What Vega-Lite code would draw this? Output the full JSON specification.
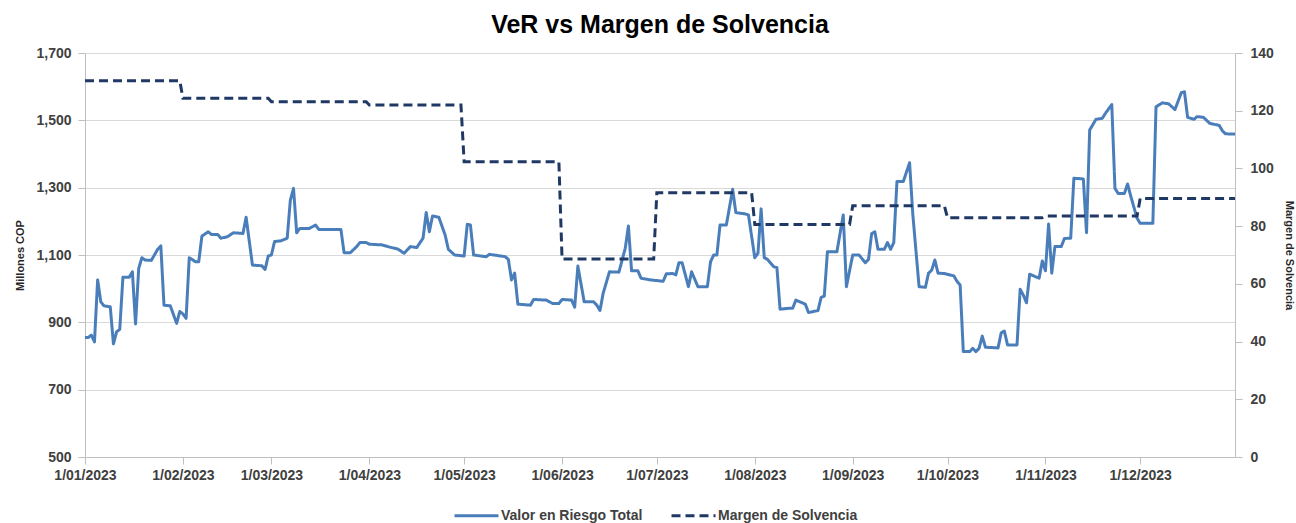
{
  "$schema": "https://vega.github.io/schema/vega-lite/v6.json",
  "width": 1150,
  "height": 404,
  "autosize": {"type": "none"},
  "padding": {"left": 85, "top": 53, "right": 61, "bottom": 66},
  "background": "white",
  "title": {"text": "VeR vs Margen de Solvencia", "fontSize": 25, "font": "Liberation Sans, Arial, sans-serif", "fontWeight": "bold", "color": "#000000", "anchor": "middle", "offset": 8},
  "config": {
    "view": {"stroke": null},
    "axis": {"labelFont": "Liberation Sans, Arial, sans-serif", "labelFontSize": 14, "labelFontWeight": "bold", "labelColor": "#404040", "titleFont": "Liberation Sans, Arial, sans-serif", "titleFontWeight": "bold", "titleFontSize": 11, "titleColor": "#262626", "domainColor": "#bfbfbf", "tickColor": "#bfbfbf", "gridColor": "#d9d9d9", "labelFlush": false, "tickSize": 7}
  },
  "data": {"values": [
    {"fecha": "2023-01-01", "serie": "Valor en Riesgo Total", "valor": 855},
    {"fecha": "2023-01-02", "serie": "Valor en Riesgo Total", "valor": 855},
    {"fecha": "2023-01-03", "serie": "Valor en Riesgo Total", "valor": 862},
    {"fecha": "2023-01-04", "serie": "Valor en Riesgo Total", "valor": 842},
    {"fecha": "2023-01-05", "serie": "Valor en Riesgo Total", "valor": 1026},
    {"fecha": "2023-01-06", "serie": "Valor en Riesgo Total", "valor": 961},
    {"fecha": "2023-01-07", "serie": "Valor en Riesgo Total", "valor": 949},
    {"fecha": "2023-01-09", "serie": "Valor en Riesgo Total", "valor": 946},
    {"fecha": "2023-01-10", "serie": "Valor en Riesgo Total", "valor": 836},
    {"fecha": "2023-01-11", "serie": "Valor en Riesgo Total", "valor": 872},
    {"fecha": "2023-01-12", "serie": "Valor en Riesgo Total", "valor": 879},
    {"fecha": "2023-01-13", "serie": "Valor en Riesgo Total", "valor": 1034},
    {"fecha": "2023-01-15", "serie": "Valor en Riesgo Total", "valor": 1034},
    {"fecha": "2023-01-16", "serie": "Valor en Riesgo Total", "valor": 1050},
    {"fecha": "2023-01-17", "serie": "Valor en Riesgo Total", "valor": 895},
    {"fecha": "2023-01-18", "serie": "Valor en Riesgo Total", "valor": 1060},
    {"fecha": "2023-01-19", "serie": "Valor en Riesgo Total", "valor": 1092},
    {"fecha": "2023-01-20", "serie": "Valor en Riesgo Total", "valor": 1085},
    {"fecha": "2023-01-22", "serie": "Valor en Riesgo Total", "valor": 1084},
    {"fecha": "2023-01-24", "serie": "Valor en Riesgo Total", "valor": 1117},
    {"fecha": "2023-01-25", "serie": "Valor en Riesgo Total", "valor": 1127},
    {"fecha": "2023-01-26", "serie": "Valor en Riesgo Total", "valor": 951},
    {"fecha": "2023-01-28", "serie": "Valor en Riesgo Total", "valor": 949},
    {"fecha": "2023-01-30", "serie": "Valor en Riesgo Total", "valor": 897},
    {"fecha": "2023-01-31", "serie": "Valor en Riesgo Total", "valor": 932},
    {"fecha": "2023-02-01", "serie": "Valor en Riesgo Total", "valor": 925},
    {"fecha": "2023-02-02", "serie": "Valor en Riesgo Total", "valor": 912},
    {"fecha": "2023-02-03", "serie": "Valor en Riesgo Total", "valor": 1092},
    {"fecha": "2023-02-05", "serie": "Valor en Riesgo Total", "valor": 1080},
    {"fecha": "2023-02-06", "serie": "Valor en Riesgo Total", "valor": 1080},
    {"fecha": "2023-02-07", "serie": "Valor en Riesgo Total", "valor": 1156},
    {"fecha": "2023-02-09", "serie": "Valor en Riesgo Total", "valor": 1169},
    {"fecha": "2023-02-10", "serie": "Valor en Riesgo Total", "valor": 1161},
    {"fecha": "2023-02-12", "serie": "Valor en Riesgo Total", "valor": 1161},
    {"fecha": "2023-02-13", "serie": "Valor en Riesgo Total", "valor": 1150},
    {"fecha": "2023-02-15", "serie": "Valor en Riesgo Total", "valor": 1154},
    {"fecha": "2023-02-17", "serie": "Valor en Riesgo Total", "valor": 1166},
    {"fecha": "2023-02-20", "serie": "Valor en Riesgo Total", "valor": 1164},
    {"fecha": "2023-02-21", "serie": "Valor en Riesgo Total", "valor": 1212},
    {"fecha": "2023-02-23", "serie": "Valor en Riesgo Total", "valor": 1070},
    {"fecha": "2023-02-26", "serie": "Valor en Riesgo Total", "valor": 1068},
    {"fecha": "2023-02-27", "serie": "Valor en Riesgo Total", "valor": 1057},
    {"fecha": "2023-02-28", "serie": "Valor en Riesgo Total", "valor": 1097},
    {"fecha": "2023-03-01", "serie": "Valor en Riesgo Total", "valor": 1100},
    {"fecha": "2023-03-02", "serie": "Valor en Riesgo Total", "valor": 1140},
    {"fecha": "2023-03-04", "serie": "Valor en Riesgo Total", "valor": 1142},
    {"fecha": "2023-03-06", "serie": "Valor en Riesgo Total", "valor": 1150},
    {"fecha": "2023-03-07", "serie": "Valor en Riesgo Total", "valor": 1263},
    {"fecha": "2023-03-08", "serie": "Valor en Riesgo Total", "valor": 1298},
    {"fecha": "2023-03-09", "serie": "Valor en Riesgo Total", "valor": 1166},
    {"fecha": "2023-03-10", "serie": "Valor en Riesgo Total", "valor": 1179},
    {"fecha": "2023-03-13", "serie": "Valor en Riesgo Total", "valor": 1179},
    {"fecha": "2023-03-15", "serie": "Valor en Riesgo Total", "valor": 1189},
    {"fecha": "2023-03-16", "serie": "Valor en Riesgo Total", "valor": 1176},
    {"fecha": "2023-03-21", "serie": "Valor en Riesgo Total", "valor": 1176},
    {"fecha": "2023-03-23", "serie": "Valor en Riesgo Total", "valor": 1176},
    {"fecha": "2023-03-24", "serie": "Valor en Riesgo Total", "valor": 1107},
    {"fecha": "2023-03-26", "serie": "Valor en Riesgo Total", "valor": 1107},
    {"fecha": "2023-03-28", "serie": "Valor en Riesgo Total", "valor": 1125},
    {"fecha": "2023-03-29", "serie": "Valor en Riesgo Total", "valor": 1137},
    {"fecha": "2023-03-31", "serie": "Valor en Riesgo Total", "valor": 1137},
    {"fecha": "2023-04-01", "serie": "Valor en Riesgo Total", "valor": 1132},
    {"fecha": "2023-04-05", "serie": "Valor en Riesgo Total", "valor": 1130},
    {"fecha": "2023-04-08", "serie": "Valor en Riesgo Total", "valor": 1122},
    {"fecha": "2023-04-10", "serie": "Valor en Riesgo Total", "valor": 1118},
    {"fecha": "2023-04-12", "serie": "Valor en Riesgo Total", "valor": 1105},
    {"fecha": "2023-04-14", "serie": "Valor en Riesgo Total", "valor": 1125},
    {"fecha": "2023-04-16", "serie": "Valor en Riesgo Total", "valor": 1122},
    {"fecha": "2023-04-18", "serie": "Valor en Riesgo Total", "valor": 1150},
    {"fecha": "2023-04-19", "serie": "Valor en Riesgo Total", "valor": 1226},
    {"fecha": "2023-04-20", "serie": "Valor en Riesgo Total", "valor": 1169},
    {"fecha": "2023-04-21", "serie": "Valor en Riesgo Total", "valor": 1216},
    {"fecha": "2023-04-23", "serie": "Valor en Riesgo Total", "valor": 1212},
    {"fecha": "2023-04-25", "serie": "Valor en Riesgo Total", "valor": 1159},
    {"fecha": "2023-04-26", "serie": "Valor en Riesgo Total", "valor": 1117},
    {"fecha": "2023-04-28", "serie": "Valor en Riesgo Total", "valor": 1100},
    {"fecha": "2023-05-01", "serie": "Valor en Riesgo Total", "valor": 1097},
    {"fecha": "2023-05-02", "serie": "Valor en Riesgo Total", "valor": 1191},
    {"fecha": "2023-05-03", "serie": "Valor en Riesgo Total", "valor": 1189},
    {"fecha": "2023-05-04", "serie": "Valor en Riesgo Total", "valor": 1100},
    {"fecha": "2023-05-08", "serie": "Valor en Riesgo Total", "valor": 1095},
    {"fecha": "2023-05-09", "serie": "Valor en Riesgo Total", "valor": 1102},
    {"fecha": "2023-05-14", "serie": "Valor en Riesgo Total", "valor": 1095},
    {"fecha": "2023-05-15", "serie": "Valor en Riesgo Total", "valor": 1087},
    {"fecha": "2023-05-16", "serie": "Valor en Riesgo Total", "valor": 1026},
    {"fecha": "2023-05-17", "serie": "Valor en Riesgo Total", "valor": 1046},
    {"fecha": "2023-05-18", "serie": "Valor en Riesgo Total", "valor": 954},
    {"fecha": "2023-05-22", "serie": "Valor en Riesgo Total", "valor": 951},
    {"fecha": "2023-05-23", "serie": "Valor en Riesgo Total", "valor": 968},
    {"fecha": "2023-05-27", "serie": "Valor en Riesgo Total", "valor": 966},
    {"fecha": "2023-05-29", "serie": "Valor en Riesgo Total", "valor": 956},
    {"fecha": "2023-05-31", "serie": "Valor en Riesgo Total", "valor": 956},
    {"fecha": "2023-06-01", "serie": "Valor en Riesgo Total", "valor": 968},
    {"fecha": "2023-06-04", "serie": "Valor en Riesgo Total", "valor": 966},
    {"fecha": "2023-06-05", "serie": "Valor en Riesgo Total", "valor": 945},
    {"fecha": "2023-06-06", "serie": "Valor en Riesgo Total", "valor": 1067},
    {"fecha": "2023-06-08", "serie": "Valor en Riesgo Total", "valor": 961},
    {"fecha": "2023-06-11", "serie": "Valor en Riesgo Total", "valor": 961},
    {"fecha": "2023-06-12", "serie": "Valor en Riesgo Total", "valor": 951},
    {"fecha": "2023-06-13", "serie": "Valor en Riesgo Total", "valor": 935},
    {"fecha": "2023-06-14", "serie": "Valor en Riesgo Total", "valor": 986},
    {"fecha": "2023-06-16", "serie": "Valor en Riesgo Total", "valor": 1050},
    {"fecha": "2023-06-19", "serie": "Valor en Riesgo Total", "valor": 1049},
    {"fecha": "2023-06-21", "serie": "Valor en Riesgo Total", "valor": 1120},
    {"fecha": "2023-06-22", "serie": "Valor en Riesgo Total", "valor": 1186},
    {"fecha": "2023-06-23", "serie": "Valor en Riesgo Total", "valor": 1053},
    {"fecha": "2023-06-25", "serie": "Valor en Riesgo Total", "valor": 1053},
    {"fecha": "2023-06-26", "serie": "Valor en Riesgo Total", "valor": 1031},
    {"fecha": "2023-06-29", "serie": "Valor en Riesgo Total", "valor": 1026},
    {"fecha": "2023-07-02", "serie": "Valor en Riesgo Total", "valor": 1023},
    {"fecha": "2023-07-03", "serie": "Valor en Riesgo Total", "valor": 1022},
    {"fecha": "2023-07-04", "serie": "Valor en Riesgo Total", "valor": 1044},
    {"fecha": "2023-07-06", "serie": "Valor en Riesgo Total", "valor": 1045},
    {"fecha": "2023-07-07", "serie": "Valor en Riesgo Total", "valor": 1041},
    {"fecha": "2023-07-08", "serie": "Valor en Riesgo Total", "valor": 1077},
    {"fecha": "2023-07-09", "serie": "Valor en Riesgo Total", "valor": 1077},
    {"fecha": "2023-07-11", "serie": "Valor en Riesgo Total", "valor": 1006},
    {"fecha": "2023-07-12", "serie": "Valor en Riesgo Total", "valor": 1050},
    {"fecha": "2023-07-14", "serie": "Valor en Riesgo Total", "valor": 1006},
    {"fecha": "2023-07-17", "serie": "Valor en Riesgo Total", "valor": 1006},
    {"fecha": "2023-07-18", "serie": "Valor en Riesgo Total", "valor": 1080},
    {"fecha": "2023-07-19", "serie": "Valor en Riesgo Total", "valor": 1100},
    {"fecha": "2023-07-20", "serie": "Valor en Riesgo Total", "valor": 1100},
    {"fecha": "2023-07-21", "serie": "Valor en Riesgo Total", "valor": 1189},
    {"fecha": "2023-07-23", "serie": "Valor en Riesgo Total", "valor": 1189},
    {"fecha": "2023-07-25", "serie": "Valor en Riesgo Total", "valor": 1295},
    {"fecha": "2023-07-26", "serie": "Valor en Riesgo Total", "valor": 1226},
    {"fecha": "2023-07-29", "serie": "Valor en Riesgo Total", "valor": 1222},
    {"fecha": "2023-07-30", "serie": "Valor en Riesgo Total", "valor": 1219},
    {"fecha": "2023-08-01", "serie": "Valor en Riesgo Total", "valor": 1092},
    {"fecha": "2023-08-02", "serie": "Valor en Riesgo Total", "valor": 1105},
    {"fecha": "2023-08-03", "serie": "Valor en Riesgo Total", "valor": 1237},
    {"fecha": "2023-08-04", "serie": "Valor en Riesgo Total", "valor": 1092},
    {"fecha": "2023-08-05", "serie": "Valor en Riesgo Total", "valor": 1087},
    {"fecha": "2023-08-07", "serie": "Valor en Riesgo Total", "valor": 1065},
    {"fecha": "2023-08-08", "serie": "Valor en Riesgo Total", "valor": 1063},
    {"fecha": "2023-08-09", "serie": "Valor en Riesgo Total", "valor": 939},
    {"fecha": "2023-08-12", "serie": "Valor en Riesgo Total", "valor": 942},
    {"fecha": "2023-08-13", "serie": "Valor en Riesgo Total", "valor": 942},
    {"fecha": "2023-08-14", "serie": "Valor en Riesgo Total", "valor": 966},
    {"fecha": "2023-08-17", "serie": "Valor en Riesgo Total", "valor": 954},
    {"fecha": "2023-08-18", "serie": "Valor en Riesgo Total", "valor": 929},
    {"fecha": "2023-08-21", "serie": "Valor en Riesgo Total", "valor": 935},
    {"fecha": "2023-08-22", "serie": "Valor en Riesgo Total", "valor": 974},
    {"fecha": "2023-08-23", "serie": "Valor en Riesgo Total", "valor": 978},
    {"fecha": "2023-08-24", "serie": "Valor en Riesgo Total", "valor": 1110},
    {"fecha": "2023-08-27", "serie": "Valor en Riesgo Total", "valor": 1110},
    {"fecha": "2023-08-29", "serie": "Valor en Riesgo Total", "valor": 1219},
    {"fecha": "2023-08-30", "serie": "Valor en Riesgo Total", "valor": 1006},
    {"fecha": "2023-09-01", "serie": "Valor en Riesgo Total", "valor": 1100},
    {"fecha": "2023-09-03", "serie": "Valor en Riesgo Total", "valor": 1100},
    {"fecha": "2023-09-05", "serie": "Valor en Riesgo Total", "valor": 1077},
    {"fecha": "2023-09-06", "serie": "Valor en Riesgo Total", "valor": 1087},
    {"fecha": "2023-09-07", "serie": "Valor en Riesgo Total", "valor": 1164},
    {"fecha": "2023-09-08", "serie": "Valor en Riesgo Total", "valor": 1169},
    {"fecha": "2023-09-09", "serie": "Valor en Riesgo Total", "valor": 1117},
    {"fecha": "2023-09-11", "serie": "Valor en Riesgo Total", "valor": 1117},
    {"fecha": "2023-09-12", "serie": "Valor en Riesgo Total", "valor": 1137},
    {"fecha": "2023-09-13", "serie": "Valor en Riesgo Total", "valor": 1117},
    {"fecha": "2023-09-14", "serie": "Valor en Riesgo Total", "valor": 1137},
    {"fecha": "2023-09-15", "serie": "Valor en Riesgo Total", "valor": 1318},
    {"fecha": "2023-09-17", "serie": "Valor en Riesgo Total", "valor": 1318},
    {"fecha": "2023-09-19", "serie": "Valor en Riesgo Total", "valor": 1374},
    {"fecha": "2023-09-20", "serie": "Valor en Riesgo Total", "valor": 1223},
    {"fecha": "2023-09-22", "serie": "Valor en Riesgo Total", "valor": 1006},
    {"fecha": "2023-09-24", "serie": "Valor en Riesgo Total", "valor": 1004},
    {"fecha": "2023-09-25", "serie": "Valor en Riesgo Total", "valor": 1046},
    {"fecha": "2023-09-26", "serie": "Valor en Riesgo Total", "valor": 1055},
    {"fecha": "2023-09-27", "serie": "Valor en Riesgo Total", "valor": 1085},
    {"fecha": "2023-09-28", "serie": "Valor en Riesgo Total", "valor": 1046},
    {"fecha": "2023-09-30", "serie": "Valor en Riesgo Total", "valor": 1045},
    {"fecha": "2023-10-03", "serie": "Valor en Riesgo Total", "valor": 1038},
    {"fecha": "2023-10-04", "serie": "Valor en Riesgo Total", "valor": 1022},
    {"fecha": "2023-10-05", "serie": "Valor en Riesgo Total", "valor": 1011},
    {"fecha": "2023-10-06", "serie": "Valor en Riesgo Total", "valor": 813},
    {"fecha": "2023-10-08", "serie": "Valor en Riesgo Total", "valor": 813},
    {"fecha": "2023-10-09", "serie": "Valor en Riesgo Total", "valor": 823},
    {"fecha": "2023-10-10", "serie": "Valor en Riesgo Total", "valor": 813},
    {"fecha": "2023-10-11", "serie": "Valor en Riesgo Total", "valor": 823},
    {"fecha": "2023-10-12", "serie": "Valor en Riesgo Total", "valor": 859},
    {"fecha": "2023-10-13", "serie": "Valor en Riesgo Total", "valor": 826},
    {"fecha": "2023-10-17", "serie": "Valor en Riesgo Total", "valor": 824},
    {"fecha": "2023-10-18", "serie": "Valor en Riesgo Total", "valor": 869},
    {"fecha": "2023-10-19", "serie": "Valor en Riesgo Total", "valor": 874},
    {"fecha": "2023-10-20", "serie": "Valor en Riesgo Total", "valor": 833},
    {"fecha": "2023-10-23", "serie": "Valor en Riesgo Total", "valor": 833},
    {"fecha": "2023-10-24", "serie": "Valor en Riesgo Total", "valor": 998},
    {"fecha": "2023-10-25", "serie": "Valor en Riesgo Total", "valor": 981},
    {"fecha": "2023-10-26", "serie": "Valor en Riesgo Total", "valor": 958},
    {"fecha": "2023-10-27", "serie": "Valor en Riesgo Total", "valor": 1043},
    {"fecha": "2023-10-30", "serie": "Valor en Riesgo Total", "valor": 1031},
    {"fecha": "2023-10-31", "serie": "Valor en Riesgo Total", "valor": 1082},
    {"fecha": "2023-11-01", "serie": "Valor en Riesgo Total", "valor": 1053},
    {"fecha": "2023-11-02", "serie": "Valor en Riesgo Total", "valor": 1192},
    {"fecha": "2023-11-03", "serie": "Valor en Riesgo Total", "valor": 1046},
    {"fecha": "2023-11-04", "serie": "Valor en Riesgo Total", "valor": 1125},
    {"fecha": "2023-11-06", "serie": "Valor en Riesgo Total", "valor": 1125},
    {"fecha": "2023-11-07", "serie": "Valor en Riesgo Total", "valor": 1149},
    {"fecha": "2023-11-09", "serie": "Valor en Riesgo Total", "valor": 1150},
    {"fecha": "2023-11-10", "serie": "Valor en Riesgo Total", "valor": 1328},
    {"fecha": "2023-11-13", "serie": "Valor en Riesgo Total", "valor": 1326},
    {"fecha": "2023-11-14", "serie": "Valor en Riesgo Total", "valor": 1166},
    {"fecha": "2023-11-15", "serie": "Valor en Riesgo Total", "valor": 1471},
    {"fecha": "2023-11-17", "serie": "Valor en Riesgo Total", "valor": 1503},
    {"fecha": "2023-11-19", "serie": "Valor en Riesgo Total", "valor": 1506},
    {"fecha": "2023-11-20", "serie": "Valor en Riesgo Total", "valor": 1521},
    {"fecha": "2023-11-22", "serie": "Valor en Riesgo Total", "valor": 1547},
    {"fecha": "2023-11-23", "serie": "Valor en Riesgo Total", "valor": 1298},
    {"fecha": "2023-11-24", "serie": "Valor en Riesgo Total", "valor": 1283},
    {"fecha": "2023-11-26", "serie": "Valor en Riesgo Total", "valor": 1283},
    {"fecha": "2023-11-27", "serie": "Valor en Riesgo Total", "valor": 1311},
    {"fecha": "2023-11-28", "serie": "Valor en Riesgo Total", "valor": 1275},
    {"fecha": "2023-11-30", "serie": "Valor en Riesgo Total", "valor": 1209},
    {"fecha": "2023-12-01", "serie": "Valor en Riesgo Total", "valor": 1194},
    {"fecha": "2023-12-05", "serie": "Valor en Riesgo Total", "valor": 1194},
    {"fecha": "2023-12-06", "serie": "Valor en Riesgo Total", "valor": 1540},
    {"fecha": "2023-12-08", "serie": "Valor en Riesgo Total", "valor": 1552},
    {"fecha": "2023-12-10", "serie": "Valor en Riesgo Total", "valor": 1549},
    {"fecha": "2023-12-12", "serie": "Valor en Riesgo Total", "valor": 1532},
    {"fecha": "2023-12-14", "serie": "Valor en Riesgo Total", "valor": 1582},
    {"fecha": "2023-12-15", "serie": "Valor en Riesgo Total", "valor": 1585},
    {"fecha": "2023-12-16", "serie": "Valor en Riesgo Total", "valor": 1509},
    {"fecha": "2023-12-18", "serie": "Valor en Riesgo Total", "valor": 1503},
    {"fecha": "2023-12-19", "serie": "Valor en Riesgo Total", "valor": 1511},
    {"fecha": "2023-12-21", "serie": "Valor en Riesgo Total", "valor": 1509},
    {"fecha": "2023-12-23", "serie": "Valor en Riesgo Total", "valor": 1491},
    {"fecha": "2023-12-26", "serie": "Valor en Riesgo Total", "valor": 1485},
    {"fecha": "2023-12-27", "serie": "Valor en Riesgo Total", "valor": 1469},
    {"fecha": "2023-12-28", "serie": "Valor en Riesgo Total", "valor": 1460},
    {"fecha": "2023-12-31", "serie": "Valor en Riesgo Total", "valor": 1459},
    {"fecha": "2023-01-01", "serie": "Margen de Solvencia", "valor": 130.4},
    {"fecha": "2023-01-31", "serie": "Margen de Solvencia", "valor": 130.4},
    {"fecha": "2023-02-01", "serie": "Margen de Solvencia", "valor": 124.3},
    {"fecha": "2023-02-28", "serie": "Margen de Solvencia", "valor": 124.3},
    {"fecha": "2023-03-01", "serie": "Margen de Solvencia", "valor": 123.1},
    {"fecha": "2023-03-31", "serie": "Margen de Solvencia", "valor": 123.1},
    {"fecha": "2023-04-01", "serie": "Margen de Solvencia", "valor": 122.0},
    {"fecha": "2023-04-30", "serie": "Margen de Solvencia", "valor": 122.0},
    {"fecha": "2023-05-01", "serie": "Margen de Solvencia", "valor": 102.3},
    {"fecha": "2023-05-31", "serie": "Margen de Solvencia", "valor": 102.3},
    {"fecha": "2023-06-01", "serie": "Margen de Solvencia", "valor": 68.6},
    {"fecha": "2023-06-30", "serie": "Margen de Solvencia", "valor": 68.6},
    {"fecha": "2023-07-01", "serie": "Margen de Solvencia", "valor": 91.6},
    {"fecha": "2023-07-31", "serie": "Margen de Solvencia", "valor": 91.6},
    {"fecha": "2023-08-01", "serie": "Margen de Solvencia", "valor": 80.6},
    {"fecha": "2023-08-31", "serie": "Margen de Solvencia", "valor": 80.6},
    {"fecha": "2023-09-01", "serie": "Margen de Solvencia", "valor": 87.1},
    {"fecha": "2023-09-30", "serie": "Margen de Solvencia", "valor": 87.1},
    {"fecha": "2023-10-01", "serie": "Margen de Solvencia", "valor": 82.9},
    {"fecha": "2023-10-31", "serie": "Margen de Solvencia", "valor": 82.9},
    {"fecha": "2023-11-01", "serie": "Margen de Solvencia", "valor": 83.5},
    {"fecha": "2023-11-30", "serie": "Margen de Solvencia", "valor": 83.5},
    {"fecha": "2023-12-01", "serie": "Margen de Solvencia", "valor": 89.6},
    {"fecha": "2023-12-31", "serie": "Margen de Solvencia", "valor": 89.6}
  ]},
  "encoding": {
    "x": {
      "field": "fecha", "type": "temporal",
      "scale": {"type": "utc", "domain": [{"year": 2023, "month": 1, "date": 1, "utc": true}, {"year": 2023, "month": 12, "date": 31, "utc": true}]},
      "axis": {
        "title": null, "labelExpr": "utcFormat(datum.value, '%-d/%m/%Y')", "grid": false, "labelPadding": 4,
        "values": [
          {"year": 2023, "month": 1, "date": 1, "utc": true},
          {"year": 2023, "month": 2, "date": 1, "utc": true},
          {"year": 2023, "month": 3, "date": 1, "utc": true},
          {"year": 2023, "month": 4, "date": 1, "utc": true},
          {"year": 2023, "month": 5, "date": 1, "utc": true},
          {"year": 2023, "month": 6, "date": 1, "utc": true},
          {"year": 2023, "month": 7, "date": 1, "utc": true},
          {"year": 2023, "month": 8, "date": 1, "utc": true},
          {"year": 2023, "month": 9, "date": 1, "utc": true},
          {"year": 2023, "month": 10, "date": 1, "utc": true},
          {"year": 2023, "month": 11, "date": 1, "utc": true},
          {"year": 2023, "month": 12, "date": 1, "utc": true}
        ]
      }
    },
    "color": {
      "field": "serie", "type": "nominal",
      "scale": {"domain": ["Valor en Riesgo Total", "Margen de Solvencia"], "range": ["#4a7ebb", "#1f3864"]},
      "legend": {"title": null, "orient": "none", "legendX": 368, "legendY": 439, "direction": "horizontal", "symbolType": "stroke", "symbolSize": 1936, "symbolStrokeWidth": 3, "labelFont": "Liberation Sans, Arial, sans-serif", "labelFontSize": 14, "labelFontWeight": "bold", "labelColor": "#404040", "columnPadding": 22, "labelOffset": 1, "padding": 0}
    },
    "strokeDash": {
      "field": "serie", "type": "nominal",
      "scale": {"domain": ["Valor en Riesgo Total", "Margen de Solvencia"], "range": [[1, 0], [9, 5]]},
      "legend": {"title": null, "orient": "none", "legendX": 368, "legendY": 439, "direction": "horizontal", "symbolType": "stroke", "symbolSize": 1936, "symbolStrokeWidth": 3, "labelFont": "Liberation Sans, Arial, sans-serif", "labelFontSize": 14, "labelFontWeight": "bold", "labelColor": "#404040", "columnPadding": 22, "labelOffset": 1, "padding": 0}
    }
  },
  "layer": [
    {
      "transform": [{"filter": "datum.serie === 'Valor en Riesgo Total'"}],
      "mark": {"type": "line", "strokeWidth": 3, "strokeJoin": "round"},
      "encoding": {
        "y": {
          "field": "valor", "type": "quantitative",
          "scale": {"domain": [500, 1700], "nice": false, "zero": false},
          "axis": {"title": "Millones COP", "values": [500, 700, 900, 1100, 1300, 1500, 1700], "format": ",d", "grid": true, "labelPadding": 7, "titlePadding": 10}
        }
      }
    },
    {
      "transform": [{"filter": "datum.serie === 'Margen de Solvencia'"}],
      "mark": {"type": "line", "strokeWidth": 3},
      "encoding": {
        "y": {
          "field": "valor", "type": "quantitative",
          "scale": {"domain": [0, 140], "nice": false},
          "axis": {"orient": "right", "title": "Margen de Solvencia", "values": [0, 20, 40, 60, 80, 100, 120, 140], "format": "d", "grid": false, "labelPadding": 8, "titlePadding": 10}
        }
      }
    }
  ],
  "resolve": {"scale": {"y": "independent"}}
}
